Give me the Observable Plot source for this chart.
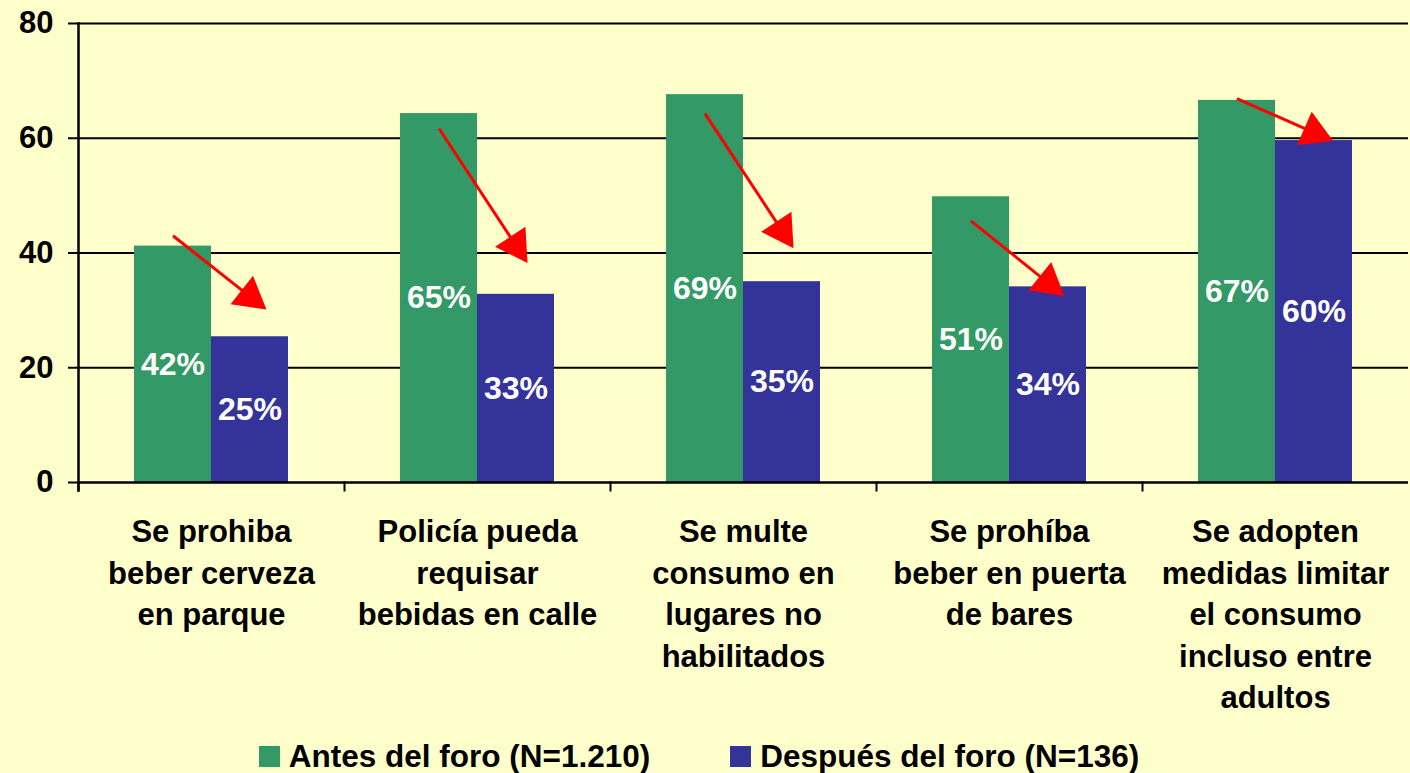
<!DOCTYPE html>
<html><head><meta charset="utf-8">
<script src="https://cdn.jsdelivr.net/npm/d3@7"></script>
<script src="https://cdn.jsdelivr.net/npm/@observablehq/plot@0.6"></script>
<style>
html,body{margin:0;padding:0;background:#FFFFCC;}
body{width:1410px;height:773px;overflow:hidden;font-family:"Liberation Sans",Arial,sans-serif;}
#legend{display:flex;justify-content:center;align-items:center;height:33px;gap:80px;font-size:31.5px;font-weight:bold;color:#000;padding-right:12px;}
.item{display:flex;align-items:center;white-space:nowrap;}
.sw{width:21px;height:21px;margin-right:9px;display:inline-block;}
</style></head><body><div id="chart"></div><div id="legend"></div>
<script>
const categories = ["Se prohiba beber cerveza en parque", "Policía pueda requisar bebidas en calle", "Se multe consumo en lugares no habilitados", "Se prohíba beber en puerta de bares", "Se adopten medidas limitar el consumo incluso entre adultos"];
const categoryLabels = ["Se prohiba\nbeber cerveza\nen parque", "Policía pueda\nrequisar\nbebidas en calle", "Se multe\nconsumo en\nlugares no\nhabilitados", "Se prohíba\nbeber en puerta\nde bares", "Se adopten\nmedidas limitar\nel consumo\nincluso entre\nadultos"];
const series = ["Antes del foro (N=1.210)", "Después del foro (N=136)"];
const colors = ["#339966", "#333399"];
const antes = [41.2, 64.3, 67.6, 49.8, 66.6];
const despues = [25.4, 32.8, 35.0, 34.1, 59.6];
const antesLabels = ["42%", "65%", "69%", "51%", "67%"];
const despuesLabels = ["25%", "33%", "35%", "34%", "60%"];
const arrowFrom = [43.0, 61.7, 64.3, 45.6, 66.9];
const arrowTo = [32.4, 41.3, 43.9, 34.8, 61.0];
const yTicks = [0, 20, 40, 60, 80];

const bars = categories.flatMap((c, i) => [
  {cat: c, s: series[0], v: antes[i], label: antesLabels[i]},
  {cat: c, s: series[1], v: despues[i], label: despuesLabels[i]}
]);
const arrows = categories.map((c, i) => ({cat: c, from: arrowFrom[i], to: arrowTo[i]}));

function makeOptions(angles) {
  return {
    width: 1410, height: 740,
    marginTop: 23, marginBottom: 258, marginLeft: 76, marginRight: 0,
    style: {fontFamily: "Liberation Sans, Arial, sans-serif", background: "#FFFFCC", color: "#000"},
    fx: {domain: categories, padding: 0, label: null},
    x: {domain: series, paddingInner: 0, paddingOuter: 0.71, axis: null},
    y: {domain: [0, 80], label: null},
    color: {domain: series, range: colors},
    marks: [
      Plot.gridY(yTicks.filter(t => t > 0), {stroke: "#000", strokeOpacity: 1, strokeWidth: 2}),
      Plot.barY(bars, {fx: "cat", x: "s", y: "v", fill: "s"}),
      Plot.ruleY([0], {stroke: "#000", strokeWidth: 2.5}),
      Plot.frame({anchor: "left", insetTop: 459, insetBottom: -8, stroke: "#000", strokeWidth: 2}),
      Plot.frame({anchor: "left", fx: categories[0], insetBottom: -8, stroke: "#000", strokeWidth: 2.5}),
      Plot.text(bars, {fx: "cat", x: "s", y: d => d.v / 2, text: "label", fill: "#fff", fontSize: 32, fontWeight: "bold"}),
      Plot.link(arrows, {fx: "cat", x1: () => series[0], x2: () => series[1], y1: "from", y2: "to", stroke: "#FF0000", strokeWidth: 3}),
      Plot.dot(arrows, {fx: "cat", x: () => series[1], y: "to", symbol: "triangle", r: 13.5, fill: "#FF0000", stroke: "none", rotate: (d, i) => angles[i]}),
      Plot.axisY({ticks: yTicks, tickSize: 10, tickPadding: 15, fontSize: 31, fontWeight: "bold", stroke: "#000", strokeWidth: 2, fill: "#000", label: null}),
      Plot.axisFx({anchor: "bottom", tickSize: 0, tickPadding: 30, fontSize: 31, fontWeight: "bold", lineHeight: 1.34, fill: "#000", label: null,
        tickFormat: d => categoryLabels[categories.indexOf(d)]})
    ]
  };
}

const pre = Plot.plot(makeOptions(arrows.map(() => 0)));
const xs = pre.scale("x"), ys = pre.scale("y");
const angles = arrows.map(d => {
  const dx = xs.apply(series[1]) - xs.apply(series[0]);
  const dy = ys.apply(d.to) - ys.apply(d.from);
  return Math.atan2(dx, -dy) * 180 / Math.PI;
});
document.getElementById("chart").appendChild(Plot.plot(makeOptions(angles)));

const legend = document.getElementById("legend");
series.forEach((s, i) => {
  const item = document.createElement("div");
  item.className = "item";
  const sw = document.createElement("span");
  sw.className = "sw";
  sw.style.background = colors[i];
  item.appendChild(sw);
  item.appendChild(document.createTextNode(s));
  legend.appendChild(item);
});
</script></body></html>
